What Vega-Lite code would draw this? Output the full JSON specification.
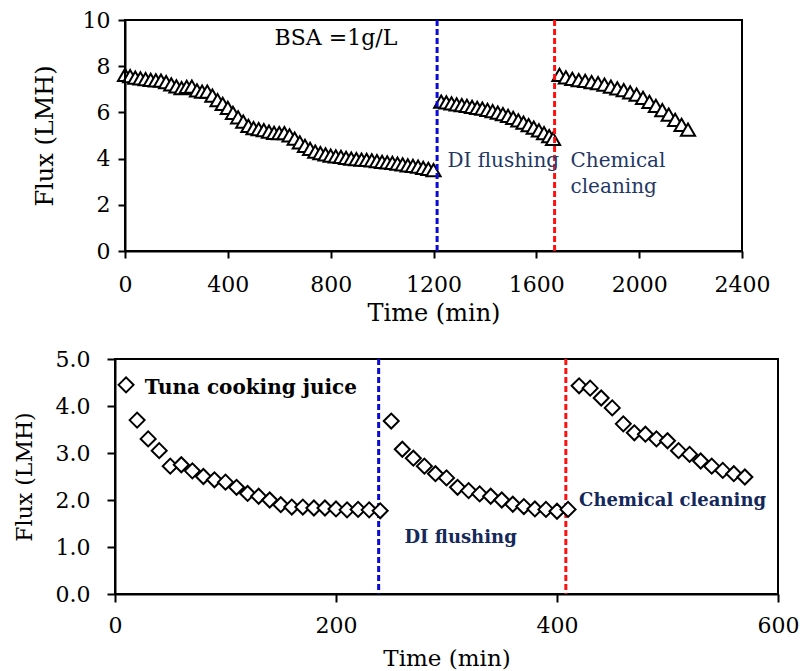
{
  "$schema": "https://vega.github.io/schema/vega-lite/v6.json",
  "background": "white",
  "padding": {"left": 11, "top": 9, "right": 0, "bottom": 0},
  "spacing": 22,
  "config": {
    "view": {"stroke": "black", "strokeWidth": 2},
    "axis": {
      "grid": false,
      "domainColor": "black",
      "domainWidth": 2,
      "tickColor": "black",
      "tickWidth": 2,
      "labelFont": "DejaVu Serif",
      "labelFontSize": 22,
      "labelColor": "black",
      "labelFlush": false,
      "labelOverlap": false,
      "titleFont": "DejaVu Serif",
      "titleFontWeight": "normal",
      "titleColor": "black"
    }
  },
  "datasets": {
    "bsa": [
      {"time": 0, "flux": 7.62}, {"time": 20, "flux": 7.57}, {"time": 40, "flux": 7.51}, {"time": 60, "flux": 7.47},
      {"time": 80, "flux": 7.44}, {"time": 100, "flux": 7.41}, {"time": 120, "flux": 7.39}, {"time": 140, "flux": 7.38},
      {"time": 160, "flux": 7.31}, {"time": 180, "flux": 7.21}, {"time": 200, "flux": 7.13}, {"time": 220, "flux": 7.05},
      {"time": 240, "flux": 7.11}, {"time": 260, "flux": 7.12}, {"time": 280, "flux": 6.95}, {"time": 300, "flux": 6.9},
      {"time": 320, "flux": 6.9}, {"time": 340, "flux": 6.73}, {"time": 360, "flux": 6.53}, {"time": 380, "flux": 6.37},
      {"time": 400, "flux": 6.2}, {"time": 420, "flux": 5.98}, {"time": 440, "flux": 5.79}, {"time": 460, "flux": 5.6},
      {"time": 480, "flux": 5.42}, {"time": 500, "flux": 5.32}, {"time": 520, "flux": 5.28}, {"time": 540, "flux": 5.23},
      {"time": 560, "flux": 5.17}, {"time": 580, "flux": 5.11}, {"time": 600, "flux": 5.1}, {"time": 620, "flux": 5.1},
      {"time": 640, "flux": 5.01}, {"time": 660, "flux": 4.86}, {"time": 680, "flux": 4.7}, {"time": 700, "flux": 4.55},
      {"time": 720, "flux": 4.42}, {"time": 740, "flux": 4.3}, {"time": 760, "flux": 4.24}, {"time": 780, "flux": 4.18},
      {"time": 800, "flux": 4.13}, {"time": 820, "flux": 4.1}, {"time": 840, "flux": 4.07}, {"time": 860, "flux": 4.03},
      {"time": 880, "flux": 4.0}, {"time": 900, "flux": 3.98}, {"time": 920, "flux": 3.96}, {"time": 940, "flux": 3.94},
      {"time": 960, "flux": 3.92}, {"time": 980, "flux": 3.89}, {"time": 1000, "flux": 3.86}, {"time": 1020, "flux": 3.84},
      {"time": 1040, "flux": 3.81}, {"time": 1060, "flux": 3.78}, {"time": 1080, "flux": 3.75}, {"time": 1100, "flux": 3.71},
      {"time": 1120, "flux": 3.68}, {"time": 1140, "flux": 3.65}, {"time": 1160, "flux": 3.6}, {"time": 1180, "flux": 3.55},
      {"time": 1200, "flux": 3.5},
      {"time": 1230, "flux": 6.47}, {"time": 1250, "flux": 6.43}, {"time": 1270, "flux": 6.39}, {"time": 1290, "flux": 6.35},
      {"time": 1310, "flux": 6.32}, {"time": 1330, "flux": 6.28}, {"time": 1350, "flux": 6.24}, {"time": 1370, "flux": 6.2},
      {"time": 1390, "flux": 6.16}, {"time": 1410, "flux": 6.11}, {"time": 1430, "flux": 6.05}, {"time": 1450, "flux": 5.99},
      {"time": 1470, "flux": 5.93}, {"time": 1490, "flux": 5.85}, {"time": 1510, "flux": 5.76}, {"time": 1530, "flux": 5.66},
      {"time": 1550, "flux": 5.56}, {"time": 1570, "flux": 5.45}, {"time": 1590, "flux": 5.34}, {"time": 1610, "flux": 5.22},
      {"time": 1630, "flux": 5.1}, {"time": 1650, "flux": 4.97}, {"time": 1665, "flux": 4.85},
      {"time": 1690, "flux": 7.62}, {"time": 1715, "flux": 7.52}, {"time": 1740, "flux": 7.45}, {"time": 1765, "flux": 7.4},
      {"time": 1790, "flux": 7.36}, {"time": 1815, "flux": 7.31}, {"time": 1840, "flux": 7.27}, {"time": 1865, "flux": 7.2},
      {"time": 1890, "flux": 7.12}, {"time": 1915, "flux": 7.04}, {"time": 1940, "flux": 6.96}, {"time": 1965, "flux": 6.87},
      {"time": 1990, "flux": 6.77}, {"time": 2015, "flux": 6.63}, {"time": 2040, "flux": 6.46}, {"time": 2065, "flux": 6.28},
      {"time": 2090, "flux": 6.1}, {"time": 2115, "flux": 5.9}, {"time": 2140, "flux": 5.68}, {"time": 2165, "flux": 5.46},
      {"time": 2190, "flux": 5.25}
    ],
    "tuna": [
      {"time": 10, "flux": 4.45}, {"time": 20, "flux": 3.7}, {"time": 30, "flux": 3.3}, {"time": 40, "flux": 3.05},
      {"time": 50, "flux": 2.72}, {"time": 60, "flux": 2.75}, {"time": 70, "flux": 2.62}, {"time": 80, "flux": 2.5},
      {"time": 90, "flux": 2.43}, {"time": 100, "flux": 2.38}, {"time": 110, "flux": 2.27}, {"time": 120, "flux": 2.14},
      {"time": 130, "flux": 2.08}, {"time": 140, "flux": 2.0}, {"time": 150, "flux": 1.9}, {"time": 160, "flux": 1.85},
      {"time": 170, "flux": 1.85}, {"time": 180, "flux": 1.83}, {"time": 190, "flux": 1.83}, {"time": 200, "flux": 1.81},
      {"time": 210, "flux": 1.79}, {"time": 220, "flux": 1.8}, {"time": 230, "flux": 1.79}, {"time": 240, "flux": 1.77},
      {"time": 250, "flux": 3.68}, {"time": 260, "flux": 3.08}, {"time": 270, "flux": 2.89}, {"time": 280, "flux": 2.72},
      {"time": 290, "flux": 2.56}, {"time": 300, "flux": 2.47}, {"time": 310, "flux": 2.27}, {"time": 320, "flux": 2.2},
      {"time": 330, "flux": 2.13}, {"time": 340, "flux": 2.08}, {"time": 350, "flux": 2.0}, {"time": 360, "flux": 1.91},
      {"time": 370, "flux": 1.86}, {"time": 380, "flux": 1.81}, {"time": 390, "flux": 1.8}, {"time": 400, "flux": 1.76},
      {"time": 410, "flux": 1.8},
      {"time": 420, "flux": 4.43}, {"time": 430, "flux": 4.38}, {"time": 440, "flux": 4.17}, {"time": 450, "flux": 3.96},
      {"time": 460, "flux": 3.62}, {"time": 470, "flux": 3.43}, {"time": 480, "flux": 3.4}, {"time": 490, "flux": 3.3},
      {"time": 500, "flux": 3.26}, {"time": 510, "flux": 3.05}, {"time": 520, "flux": 2.97}, {"time": 530, "flux": 2.83},
      {"time": 540, "flux": 2.72}, {"time": 550, "flux": 2.63}, {"time": 560, "flux": 2.56}, {"time": 570, "flux": 2.49}
    ],
    "top_events": [
      {"time": 1214, "event": "DI flushing"},
      {"time": 1671, "event": "Chemical cleaning"}
    ],
    "bottom_events": [
      {"time": 238.6, "event": "DI flushing"},
      {"time": 408, "event": "Chemical cleaning"}
    ],
    "top_notes": [
      {"time": 582, "flux": 8.9, "label": "BSA =1g/L", "kind": "sample"},
      {"time": 1254, "flux": 3.65, "label": "DI flushing", "kind": "step"},
      {"time": 1733, "flux": 3.65, "label": "Chemical", "kind": "step"},
      {"time": 1733, "flux": 2.5, "label": "cleaning", "kind": "step"}
    ],
    "bottom_notes": [
      {"time": 27, "flux": 4.25, "label": "Tuna cooking juice", "kind": "sample"},
      {"time": 262, "flux": 1.09, "label": "DI flushing", "kind": "step"},
      {"time": 420, "flux": 1.87, "label": "Chemical cleaning", "kind": "step"}
    ]
  },
  "vconcat": [
    {
      "width": 627,
      "height": 231,
      "view": {"stroke": null},
      "layer": [
        {
          "data": {"name": "bsa"},
          "mark": {"type": "point", "shape": "triangle-up", "filled": true, "fill": "white", "stroke": "black", "strokeWidth": 2, "opacity": 1, "size": 200},
          "encoding": {
            "x": {"field": "time", "type": "quantitative", "scale": {"domain": [0, 2400], "range": [10, 627], "nice": false},
              "axis": {"title": "Time (min)", "values": [0, 400, 800, 1200, 1600, 2000, 2400], "format": "d", "tickSize": 7, "labelPadding": 16, "titleFontSize": 24, "titleBaseline": "alphabetic", "titleY": 69}},
            "y": {"field": "flux", "type": "quantitative", "scale": {"domain": [0, 10], "nice": false},
              "axis": {"title": "Flux (LMH)", "values": [0, 2, 4, 6, 8, 10], "format": "d", "offset": -10, "tickSize": 7, "labelPadding": 8, "titleFontSize": 24, "titleBaseline": "alphabetic", "titleX": -73}}
          }
        },
        {
          "data": {"values": [{}]},
          "mark": {"type": "rect", "filled": false, "color": "black", "stroke": "black", "strokeWidth": 2},
          "encoding": {
            "x": {"datum": 0, "type": "quantitative"},
            "x2": {"datum": 2400},
            "y": {"datum": 0, "type": "quantitative"},
            "y2": {"datum": 10}
          }
        },
        {
          "data": {"name": "top_events"},
          "mark": {"type": "rule", "strokeWidth": 3, "strokeDash": [6, 3]},
          "encoding": {
            "x": {"field": "time", "type": "quantitative"},
            "color": {"field": "event", "type": "nominal", "scale": {"domain": ["DI flushing", "Chemical cleaning"], "range": ["#0a0ad2", "#ff1010"]}, "legend": null}
          }
        },
        {
          "data": {"name": "top_notes"},
          "transform": [{"filter": "datum.kind === 'sample'"}],
          "mark": {"type": "text", "align": "left", "baseline": "alphabetic", "font": "DejaVu Serif", "fontSize": 22, "color": "black"},
          "encoding": {
            "x": {"field": "time", "type": "quantitative"},
            "y": {"field": "flux", "type": "quantitative"},
            "text": {"field": "label"}
          }
        },
        {
          "data": {"name": "top_notes"},
          "transform": [{"filter": "datum.kind === 'step'"}],
          "mark": {"type": "text", "align": "left", "baseline": "alphabetic", "font": "DejaVu Serif", "fontSize": 20, "color": "#1f3864"},
          "encoding": {
            "x": {"field": "time", "type": "quantitative"},
            "y": {"field": "flux", "type": "quantitative"},
            "text": {"field": "label"}
          }
        }
      ]
    },
    {
      "width": 663,
      "height": 235,
      "layer": [
        {
          "data": {"name": "bottom_events"},
          "mark": {"type": "rule", "strokeWidth": 3, "strokeDash": [6, 3]},
          "encoding": {
            "x": {"field": "time", "type": "quantitative", "scale": {"domain": [0, 600], "nice": false},
              "axis": {"title": "Time (min)", "values": [0, 200, 400, 600], "format": "d", "tickSize": 8, "labelPadding": 13, "titleFontSize": 23, "titleBaseline": "alphabetic", "titleY": 71}},
            "color": {"field": "event", "type": "nominal", "scale": {"domain": ["DI flushing", "Chemical cleaning"], "range": ["#0a0ad2", "#ff1010"]}, "legend": null}
          }
        },
        {
          "data": {"name": "tuna"},
          "mark": {"type": "point", "shape": "diamond", "filled": true, "fill": "white", "stroke": "black", "strokeWidth": 2, "opacity": 1, "size": 225},
          "encoding": {
            "x": {"field": "time", "type": "quantitative"},
            "y": {"field": "flux", "type": "quantitative", "scale": {"domain": [0, 5], "nice": false},
              "axis": {"title": "Flux (LMH)", "values": [0, 1, 2, 3, 4, 5], "format": ".1f", "tickSize": 8, "labelPadding": 17, "titleFontSize": 22, "titleBaseline": "alphabetic", "titleX": -84}}
          }
        },
        {
          "data": {"name": "bottom_notes"},
          "transform": [{"filter": "datum.kind === 'sample'"}],
          "mark": {"type": "text", "align": "left", "baseline": "alphabetic", "font": "DejaVu Serif", "fontSize": 20, "fontWeight": "bold", "color": "black"},
          "encoding": {
            "x": {"field": "time", "type": "quantitative"},
            "y": {"field": "flux", "type": "quantitative"},
            "text": {"field": "label"}
          }
        },
        {
          "data": {"name": "bottom_notes"},
          "transform": [{"filter": "datum.kind === 'step'"}],
          "mark": {"type": "text", "align": "left", "baseline": "alphabetic", "font": "DejaVu Serif", "fontSize": 18, "fontWeight": "bold", "color": "#14285a"},
          "encoding": {
            "x": {"field": "time", "type": "quantitative"},
            "y": {"field": "flux", "type": "quantitative"},
            "text": {"field": "label"}
          }
        }
      ]
    }
  ]
}
